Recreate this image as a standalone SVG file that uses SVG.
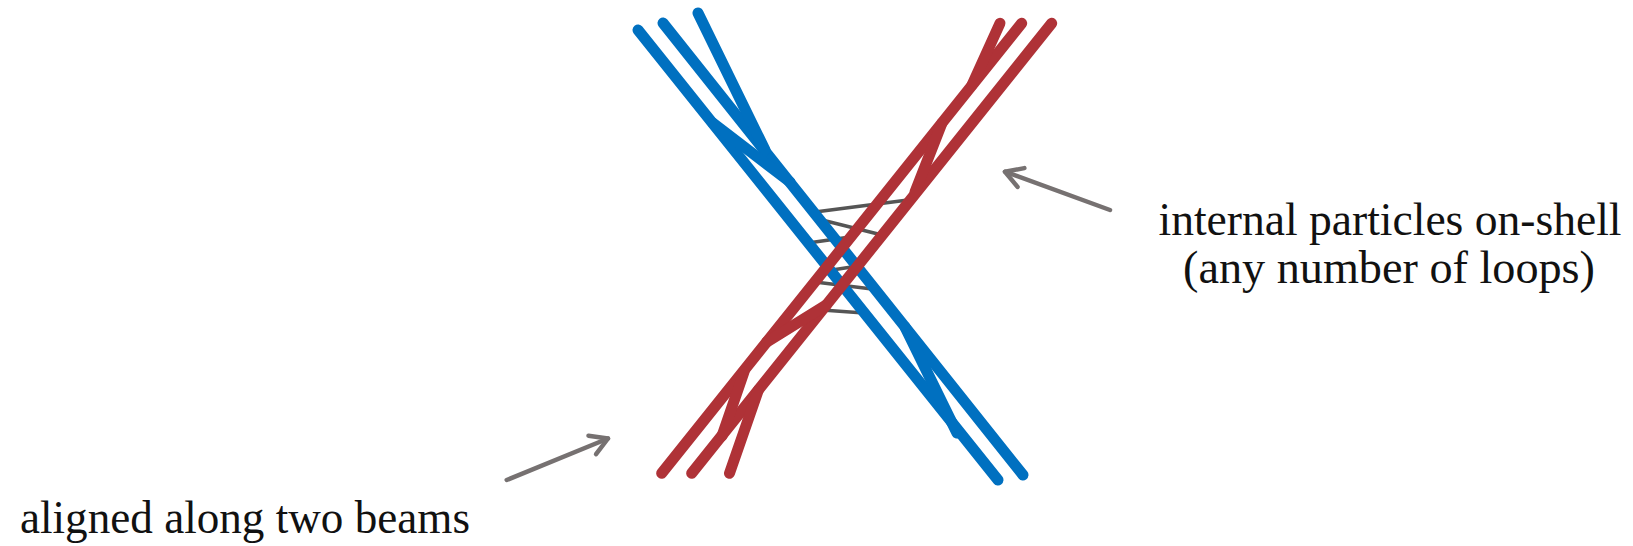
<svg xmlns="http://www.w3.org/2000/svg" width="1633" height="546" viewBox="0 0 1633 546">
<style>
.blue{fill:none;stroke:#0070C0;stroke-width:11;stroke-linecap:round;stroke-linejoin:round}
.red{fill:none;stroke:#AF3237;stroke-width:11;stroke-linecap:round;stroke-linejoin:round}
.ex{fill:none;stroke:#555555;stroke-width:3.5;stroke-linecap:butt}
.arr{fill:none;stroke:#767171;stroke-width:4.5;stroke-linecap:round}
.lbl{font-family:"Liberation Serif","Times New Roman",serif;font-size:47px;fill:#111111}
</style>
<defs>
<marker id="head" markerUnits="userSpaceOnUse" viewBox="-22 -15 30 30" markerWidth="30" markerHeight="30" refX="0" refY="0" orient="auto" overflow="visible">
<path d="M-17,-10 L0,0 L-17,10" fill="none" stroke="#767171" stroke-width="4.5" stroke-linecap="round" stroke-linejoin="round"/>
</marker>
</defs>
<rect width="1633" height="546" fill="#ffffff"/>
<g id="exchanges">
<line class="ex" x1="815" y1="212" x2="908" y2="200"/>
<line class="ex" x1="818" y1="219" x2="882" y2="235"/>
<line class="ex" x1="808" y1="243" x2="850" y2="237"/>
<line class="ex" x1="832" y1="270" x2="858" y2="266"/>
<line class="ex" x1="815" y1="282" x2="872" y2="289"/>
<line class="ex" x1="822" y1="310" x2="864" y2="313"/>
</g>
<g id="beam-blue">
<line class="blue" x1="638" y1="30" x2="998" y2="480"/>
<line class="blue" x1="663" y1="23" x2="1023" y2="475"/>
<polyline class="blue" points="698,13 765,150"/>
<polyline class="blue" points="713,123 790,182"/>
<polyline class="blue" points="905,327 957,433"/>
</g>
<g id="beam-red">
<line class="red" x1="1021.7" y1="23.3" x2="661.7" y2="473.3"/>
<line class="red" x1="1051.7" y1="23.3" x2="691.7" y2="473.3"/>
<polyline class="red" points="1000,23.3 972,85"/>
<polyline class="red" points="942,123 915,192"/>
<polyline class="red" points="826.3,305 766.7,342"/>
<polyline class="red" points="744,372 722,436"/>
<polyline class="red" points="758.4,390 729.5,473.3"/>
</g>
<g id="connectors">
<line class="arr" x1="506.7" y1="480" x2="608" y2="438.5" marker-end="url(#head)"/>
<line class="arr" x1="1110" y1="210" x2="1005" y2="171.7" marker-end="url(#head)"/>
</g>
<g id="label-internal">
<text class="lbl" x="1390" y="235" text-anchor="middle" textLength="463" lengthAdjust="spacingAndGlyphs">internal particles on-shell</text>
<text class="lbl" x="1389" y="283" text-anchor="middle" textLength="412" lengthAdjust="spacingAndGlyphs">(any number of loops)</text>
</g>
<g id="label-aligned">
<text class="lbl" x="20" y="533" textLength="450" lengthAdjust="spacingAndGlyphs">aligned along two beams</text>
</g>
</svg>
